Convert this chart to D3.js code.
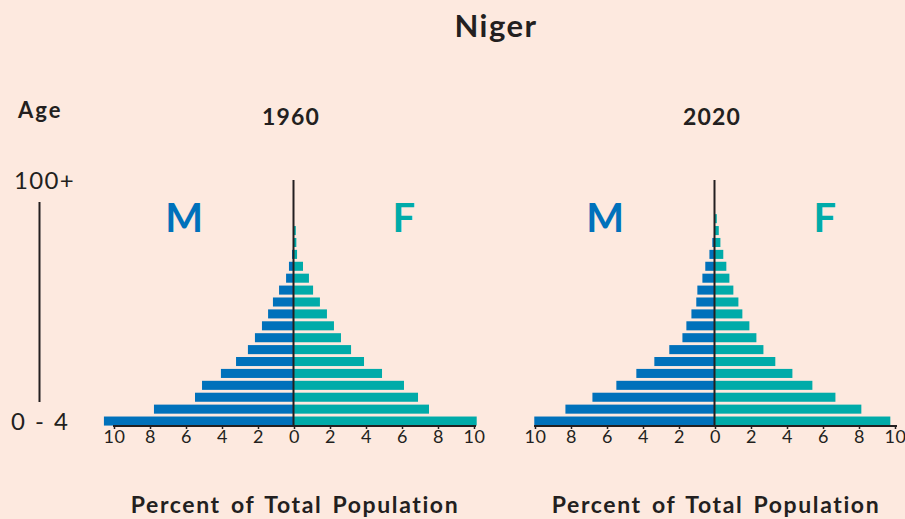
<!DOCTYPE html>
<html><head><meta charset="utf-8">
<script src="https://cdn.jsdelivr.net/npm/d3@7"></script>
<style>
html,body{margin:0;padding:0;background:#fde9df;}
svg{display:block;}
text{font-family:Lato,"Open Sans",sans-serif;fill:#231f20;}
</style></head>
<body><svg id="chart" width="905" height="519"></svg>
<script>
const ageGroups = ["0-4","5-9","10-14","15-19","20-24","25-29","30-34","35-39","40-44","45-49","50-54","55-59","60-64","65-69","70-74","75-79","80-84","85-89","90-94","95-99","100+"];
const male1960   = [10.56,7.78,5.5,5.11,4.06,3.22,2.56,2.17,1.78,1.44,1.17,0.83,0.44,0.28,0.11,0.05,0.03,0,0,0,0];
const female1960 = [10.15,7.5,6.89,6.11,4.89,3.89,3.17,2.61,2.22,1.83,1.44,1.06,0.83,0.5,0.17,0.13,0.1,0,0,0,0];
const male2020   = [10.04,8.31,6.81,5.48,4.37,3.37,2.54,1.81,1.59,1.31,1.04,0.98,0.7,0.54,0.31,0.15,0.05,0.02,0,0,0];
const female2020 = [9.74,8.13,6.69,5.41,4.3,3.35,2.69,2.3,1.91,1.52,1.3,1.02,0.8,0.63,0.46,0.3,0.21,0.1,0,0,0];
const xTicks = [-10,-8,-6,-4,-2,0,2,4,6,8,10];
const panels = [
  {year:"1960", male:male1960, female:female1960, cx:294},
  {year:"2020", male:male2020, female:female2020, cx:715}
];
const title = "Niger";
const xLabel = "Percent of Total Population";
const maleColor = "#0071bb", femaleColor = "#00aba9", ink = "#231f20";

const svg = d3.select("#chart");

svg.append("text").attr("x",496).attr("y",37).attr("text-anchor","middle")
  .attr("font-size",31).attr("font-weight",700).attr("letter-spacing",1.5).text(title);

// Age legend
svg.append("text").attr("x",18).attr("y",118).attr("font-size",22).attr("font-weight",700).attr("letter-spacing",2).text("Age");
svg.append("text").attr("x",14).attr("y",189).attr("font-size",24).attr("letter-spacing",1.3).text("100+");
svg.append("text").attr("x",11).attr("y",430).attr("font-size",24).attr("letter-spacing",1).attr("word-spacing",2).text("0 - 4");
svg.append("line").attr("x1",39.5).attr("x2",39.5).attr("y1",202).attr("y2",402)
  .attr("stroke",ink).attr("stroke-width",2);

const y = d3.scaleBand().domain(ageGroups).range([427,177]).paddingInner(0.24).paddingOuter(0.12);

panels.forEach(p => {
  const x = d3.scaleLinear().domain([-10,10]).range([p.cx-180, p.cx+180]);
  const g = svg.append("g");
  g.append("text").attr("x",p.cx-3).attr("y",125).attr("text-anchor","middle")
    .attr("font-size",23).attr("font-weight",700).attr("letter-spacing",1.2).text(p.year);
  g.append("text").attr("x",x(-6.1)).attr("y",232).attr("text-anchor","middle")
    .attr("font-size",40).attr("font-weight",700).style("fill",maleColor).text("M");
  g.append("text").attr("x",x(6.1)).attr("y",232).attr("text-anchor","middle")
    .attr("font-size",40).attr("font-weight",700).style("fill",femaleColor).text("F");

  g.selectAll(".m").data(ageGroups).join("rect")
    .attr("x",(d,i)=>x(-p.male[i])).attr("width",(d,i)=>x(0)-x(-p.male[i]))
    .attr("y",d=>y(d)).attr("height",y.bandwidth()).attr("fill",maleColor);
  g.selectAll(".f").data(ageGroups).join("rect")
    .attr("x",x(0)).attr("width",(d,i)=>x(p.female[i])-x(0))
    .attr("y",d=>y(d)).attr("height",y.bandwidth()).attr("fill",femaleColor);

  const axis = g.append("g").attr("transform","translate(0,426)")
    .call(d3.axisBottom(x).tickValues(xTicks).tickFormat(d=>Math.abs(d)).tickSize(3).tickSizeOuter(0));
  axis.select(".domain").remove();
  axis.selectAll(".tick line").attr("stroke",ink).attr("stroke-width",1.5);
  axis.selectAll(".tick text").attr("font-size",18).attr("dy","0.6em").attr("letter-spacing",0.5)
    .style("font-family","Lato, sans-serif").style("fill",ink);
  g.append("line").attr("x1",x(-10)-1).attr("x2",x(10)+2).attr("y1",426).attr("y2",426)
    .attr("stroke",ink).attr("stroke-width",2);
  g.append("line").attr("x1",x(0)-0.5).attr("x2",x(0)-0.5).attr("y1",180).attr("y2",426)
    .attr("stroke",ink).attr("stroke-width",2);

  g.append("text").attr("x",p.cx+1).attr("y",513).attr("text-anchor","middle")
    .attr("font-size",23).attr("font-weight",700).attr("letter-spacing",1.6).attr("word-spacing",3).text(xLabel);
});
</script></body></html>
